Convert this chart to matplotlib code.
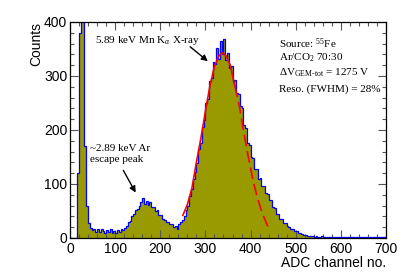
import numpy as np
import matplotlib
matplotlib.use("Agg")
import matplotlib.pyplot as plt
from matplotlib.ticker import MultipleLocator

plt.rcParams['font.family'] = ['Liberation Sans', 'DejaVu Sans']
plt.rcParams['mathtext.fontset'] = 'custom'
plt.rcParams['mathtext.rm'] = 'Liberation Serif'
plt.rcParams['mathtext.it'] = 'Liberation Serif:italic'

# Histogram: 4-channel bins starting at 0
bin_width = 4
counts = [
    0, 0, 0, 0, 120, 380, 600, 450, 170, 60,          # 0-39
    28, 18, 14, 17, 11, 16, 12, 17, 13, 10,           # 40-79
    15, 11, 16, 9, 13, 10, 15, 12, 16, 15,            # 80-119
    19, 22, 29, 32, 41, 44, 52, 54, 60, 66,           # 120-159
    74, 63, 68, 62, 66, 58, 58, 50, 51, 43,           # 160-199
    42, 35, 34, 29, 29, 25, 25, 21, 22, 17,           # 200-239
    25, 29, 34, 41, 52, 60, 77, 90, 110, 123,         # 240-279
    138, 165, 176, 205, 218, 250, 258, 290, 296, 325, # 280-319
    322, 352, 332, 365, 340, 368, 330, 342, 315, 318, # 320-359
    288, 292, 268, 266, 244, 240, 210, 204, 176, 172, # 360-399
    150, 148, 128, 127, 110, 111, 96, 97, 84, 82,     # 400-439
    70, 70, 57, 55, 45, 44, 36, 36, 28, 28,           # 440-479
    22, 21, 17, 16, 13, 13, 10, 9, 7, 6,              # 480-519
    5, 4, 4, 3, 3, 2, 3, 2, 2, 3,                     # 520-559
    2, 1, 2, 1, 1, 2, 1, 1, 1, 2,                     # 560-599
    1, 1, 1, 2, 1, 1, 1, 1, 2, 1,                     # 600-639
    1, 1, 1, 1, 1, 2, 1, 1, 1, 1,                     # 640-679
    1, 1, 1, 1, 1,                                    # 680-699
]
edges = np.arange(len(counts) + 1) * bin_width

# Fit curve points
fit_ch_solid = [250, 260, 270, 280, 290, 300, 310, 320, 330, 337, 345, 355, 365]
fit_val_solid = [42, 62, 92, 140, 185, 235, 282, 318, 338, 343, 338, 320, 282]
fit_ch_dash = [365, 375, 385, 395, 405, 415, 425, 435, 440]
fit_val_dash = [282, 245, 195, 150, 108, 75, 48, 28, 18]

fig = plt.figure(figsize=(4.15, 2.77), dpi=100)
ax = fig.add_axes([0.1687, 0.1408, 0.7614, 0.7798])

ax.stairs(counts, edges, fill=True, color='#999900', lw=0, zorder=1)
ax.stairs(counts, edges, color='#0000ff', lw=0.9, zorder=2)
ax.plot(fit_ch_solid, fit_val_solid, color='red', lw=1.2, zorder=3)
ax.plot(fit_ch_dash, fit_val_dash, color='red', lw=1.2, ls=(0, (7, 3)), zorder=3)

ax.set_xlim(0, 700)
ax.set_ylim(0, 400)
ax.xaxis.set_major_locator(MultipleLocator(100))
ax.xaxis.set_minor_locator(MultipleLocator(20))
ax.yaxis.set_major_locator(MultipleLocator(100))
ax.yaxis.set_minor_locator(MultipleLocator(20))
ax.tick_params(which='both', direction='in', top=True, right=True, color='#555555')
ax.tick_params(which='major', length=6, width=0.8)
ax.tick_params(which='minor', length=3, width=0.8)
ax.tick_params(axis='x', labelsize=10, pad=3)
ax.tick_params(axis='y', labelsize=10, pad=2)
for s in ax.spines.values():
    s.set_linewidth(0.9)

fig.text(36 / 415, 1 - 22 / 277, 'Counts', rotation=90, ha='center', va='top', fontsize=10)
fig.text(386 / 415, 1 - 263 / 277, 'ADC channel no.', ha='right', va='center', fontsize=10)

serif = dict(family='Liberation Serif', fontsize=8)
ax.text(95 / 415, 1 - 40 / 277, r'5.89 keV Mn K$_{\alpha}$ X-ray', transform=fig.transFigure,
        ha='left', va='center', **serif)
ax.annotate('', xy=(210 / 415, 1 - 63 / 277), xytext=(188 / 415, 1 - 45 / 277),
            xycoords='figure fraction', textcoords='figure fraction',
            arrowprops=dict(arrowstyle='-|>', color='black', lw=1.0, mutation_scale=9))

ax.text(90 / 415, 1 - 154 / 277, '~2.89 keV Ar\nescape peak', transform=fig.transFigure,
        ha='left', va='center', linespacing=1.15, **serif)
ax.annotate('', xy=(137 / 415, 1 - 195 / 277), xytext=(122 / 415, 1 - 168 / 277),
            xycoords='figure fraction', textcoords='figure fraction',
            arrowprops=dict(arrowstyle='-|>', color='black', lw=1.0, mutation_scale=9))

lines = [r'Source: $^{55}$Fe', r'Ar/CO$_{2}$ 70:30',
         r'ΔV$_{\mathrm{GEM}\text{-}\mathrm{tot}}$ = 1275 V', 'Reso. (FWHM) = 28%']
ys = [44, 58, 73, 89]
for t, y in zip(lines, ys):
    ax.text(279 / 415, 1 - y / 277, t, transform=fig.transFigure, ha='left', va='center', **serif)

fig.savefig('out.png', dpi=100)
